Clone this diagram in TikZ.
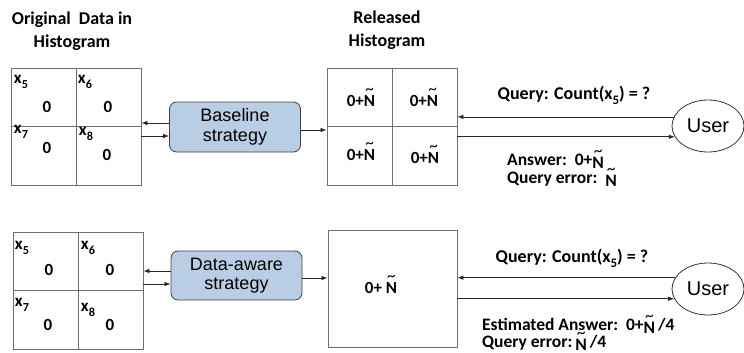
\documentclass[tikz,border=0pt]{standalone}
\usepackage{fontspec}
\setmainfont{Carlito}
\newfontfamily\arialfont{Liberation Sans}
\usetikzlibrary{arrows.meta,shapes.geometric}

\definecolor{stratblue}{HTML}{B9CDE4}
\definecolor{gridgray}{HTML}{6E6E6E}

% lowered subscript that keeps the text font
\newcommand\lowsub[1]{\raisebox{-0.28em}{\scalebox{0.72}{#1}}}
% N with a tilde floating above it
\newcommand\tN{\ooalign{N\cr\hidewidth\raisebox{0.68em}{\mdseries\textasciitilde}\hidewidth\cr}}
\newcommand\lowtN{\raisebox{-3pt}{\tN}}

\begin{document}
\begin{tikzpicture}[x=1pt,y=-1pt,
  lbl/.style={font=\fontsize{18}{23}\selectfont\bfseries, inner sep=0pt, align=center},
  cell/.style={font=\fontsize{17}{20}\selectfont\bfseries, inner sep=0pt},
  qtext/.style={font=\fontsize{18}{21}\selectfont\bfseries, inner sep=0pt},
  atext/.style={font=\fontsize{17.5}{20}\selectfont\bfseries, inner sep=0pt, anchor=base west},
  histo/.style={draw=gridgray, line width=0.9pt, minimum width=130pt, minimum height=117pt, inner sep=0pt},
  midline/.style={draw=gridgray, line width=0.9pt},
  strat/.style={draw=black!75, fill=stratblue, rounded corners=7pt, line width=0.8pt,
    minimum width=131pt, minimum height=50pt, align=center, inner sep=0pt,
    font=\arialfont\fontsize{18}{19.5}\selectfont},
  user/.style={ellipse, draw=black!80, line width=0.8pt, minimum width=72pt, minimum height=52pt,
    inner sep=0pt, font=\arialfont\fontsize{20}{22}\selectfont},
  arr/.style={-{Latex[length=6pt,width=4.5pt]}, line width=0.7pt, draw=black!85}
]
\useasboundingbox (0,0) rectangle (744,353);

% ---------- titles ----------
\node[lbl] (ttlorig) at (72,31) {Original~~Data in\\Histogram};
\node[lbl] (ttlrel) at (387,30.5) {Released\\Histogram};

% ---------- baseline row ----------
\node[histo] (og1) at (76,126.5) {};
\draw[midline] (og1.north) -- (og1.south) (og1.west) -- (og1.east);
\node[cell] (a5) at (21,82) {x\lowsub{5}};
\node[cell] (a5v) at (47,107) {0};
\node[cell] (a6) at (85,82) {x\lowsub{6}};
\node[cell] (a6v) at (108,107) {0};
\node[cell] (a7) at (21,132) {x\lowsub{7}};
\node[cell] (a7v) at (47,148) {0};
\node[cell] (a8) at (86,134) {x\lowsub{8}};
\node[cell] (a8v) at (107,155) {0};

\node[strat] (base) at (235,127) {Baseline\\strategy};

\node[histo] (rel) at (392,126.5) {};
\draw[midline] (rel.north) -- (rel.south) (rel.west) -- (rel.east);
\node[cell] (r1) at (361,101) {0+\tN};
\node[cell] (r2) at (424,101) {0+\tN};
\node[cell] (r3) at (361,155) {0+\tN};
\node[cell] (r4) at (425,158) {0+\tN};

\node[user] (u1) at (708,126) {User};

\draw[arr] ([yshift=4pt]base.west) -- ([yshift=4pt]base.west -| og1.east);
\draw[arr] ([yshift=-9pt]base.west -| og1.east) -- ([yshift=-9pt]base.west);
\draw[arr] ([yshift=-3pt]base.east) -- ([yshift=-3pt]base.east -| rel.west);
\draw[arr] (u1.165.1) -- (rel.east |- u1.165.1);
\draw[arr] (rel.east |- u1.198.6) -- (u1.198.6);

\node[qtext] (q1) at (574,95) {Query: Count(x\lowsub{5}) = ?};
\node[atext] (ans1) at (507,165) {Answer:~~0+\lowtN};
\node[atext] (err1) at (507,183) {Query error:~~\lowtN};

% ---------- data-aware row ----------
\node[histo] (og2) at (78,290.5) {};
\draw[midline] (og2.north) -- (og2.south) (og2.west) -- (og2.east);
\node[cell] (b5) at (22,248) {x\lowsub{5}};
\node[cell] (b5v) at (49,270) {0};
\node[cell] (b6) at (88,248) {x\lowsub{6}};
\node[cell] (b6v) at (110,270) {0};
\node[cell] (b7) at (22,305) {x\lowsub{7}};
\node[cell] (b7v) at (48,325) {0};
\node[cell] (b8) at (88,310) {x\lowsub{8}};
\node[cell] (b8v) at (110,325) {0};

\node[strat, minimum height=49pt] (daw) at (236.5,275.5) {Data-aware\\strategy};

\node[histo, minimum width=129pt] (rel2) at (392.5,288.5) {};
\node[cell] (s1) at (381,288) {0+ \tN};

\node[user] (u2) at (708,289) {User};

\draw[arr] ([yshift=4.5pt]daw.west) -- ([yshift=4.5pt]daw.west -| og2.east);
\draw[arr] ([yshift=-8.5pt]daw.west -| og2.east) -- ([yshift=-8.5pt]daw.west);
\draw[arr] ([yshift=-2.5pt]daw.east) -- ([yshift=-2.5pt]daw.east -| rel2.west);
\draw[arr] (u2.161.4) -- (rel2.east |- u2.161.4);
\draw[arr] (rel2.east |- u2.196.8) -- (u2.196.8);

\node[qtext] (q2) at (572,258) {Query: Count(x\lowsub{5}) = ?};
\node[atext] (ans2) at (482,330) {Estimated Answer:~~0+\lowtN\,/4};
\node[atext] (err2) at (482,347.5) {Query error:\,\lowtN\,/4};
\end{tikzpicture}
\end{document}
